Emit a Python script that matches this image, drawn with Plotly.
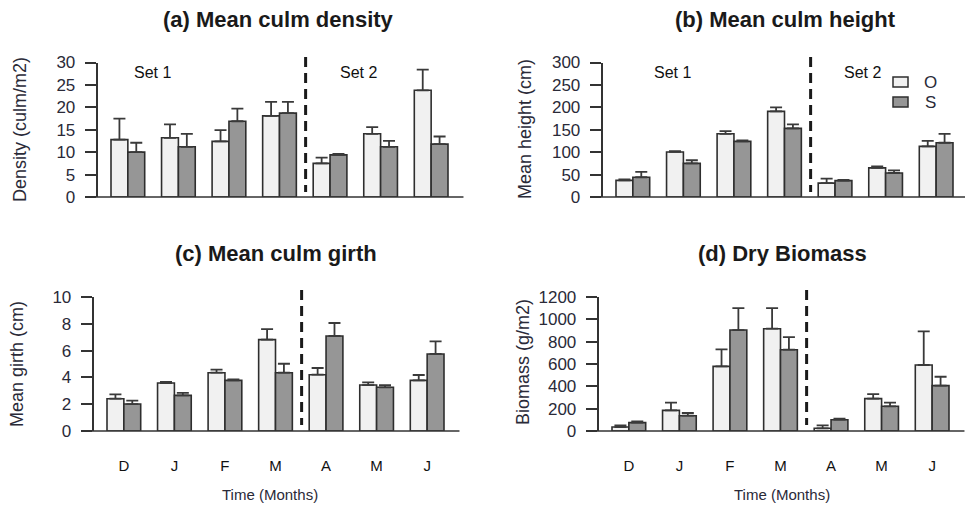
import numpy as np
import plotly.graph_objects as go

# ---------------- data ----------------
months = ["D", "J", "F", "M", "A", "M", "J"]
series_names = ["O", "S"]

density_O = [12.8, 13.2, 12.4, 18.1, 7.5, 14.1, 23.8]
density_O_err = [4.7, 3.0, 2.5, 3.1, 1.3, 1.5, 4.6]
density_S = [10.0, 11.2, 16.9, 18.7, 9.4, 11.2, 11.8]
density_S_err = [2.1, 2.9, 2.8, 2.5, 0.2, 1.3, 1.7]

height_O = [37, 100.5, 141, 191, 31, 65, 113]
height_O_err = [2.5, 1.5, 6, 9, 10, 3, 12]
height_S = [44, 75, 124, 153, 36.5, 53.6, 121]
height_S_err = [12, 7, 2, 9, 1.5, 6, 20]

girth_O = [2.41, 3.58, 4.35, 6.82, 4.2, 3.43, 3.78]
girth_O_err = [0.33, 0.08, 0.23, 0.79, 0.5, 0.2, 0.4]
girth_S = [2.01, 2.66, 3.78, 4.35, 7.09, 3.26, 5.75]
girth_S_err = [0.25, 0.18, 0.08, 0.67, 0.97, 0.17, 0.94]

biomass_O = [36, 185, 579, 916, 24, 290, 591]
biomass_O_err = [15, 69, 152, 185, 27, 41, 302]
biomass_S = [75, 137, 904, 728, 101, 221, 406]
biomass_S_err = [12, 24, 197, 113, 9, 33, 80]

titles = ["(a) Mean culm density", "(b) Mean culm height",
          "(c) Mean culm girth", "(d) Dry Biomass"]
ytitles = ["Density (culm/m2)", "Mean height (cm)", "Mean girth (cm)", "Biomass (g/m2)"]
set_labels = ["Set 1", "Set 2"]
xlabel = "Time (Months)"

# ---------------- layout constants ----------------
W, H = 965, 522
PPU = 16.85
FONT = "Liberation Sans, Arial, sans-serif"
C_O = "#F1F1F1"
C_S = "#969696"
EDGE = "#2e2e2e"
TXT = "#2a2a38"

def fx(px):
    return px / W

def fy(px):
    return 1 - px / H

panels = [
    dict(O=density_O, Oe=density_O_err, S=density_S, Se=density_S_err,
         unit1=111, ybot=197, ytop=62.5, ymax=30, dtick=5,
         title_xy=(278, 20), ytitle_xy=(20, 130), dash_y=(57, 192),
         months=False),
    dict(O=height_O, Oe=height_O_err, S=height_S, Se=height_S_err,
         unit1=616, ybot=197, ytop=62.5, ymax=300, dtick=50,
         title_xy=(785, 20), ytitle_xy=(525, 129), dash_y=(57, 192),
         months=False),
    dict(O=girth_O, Oe=girth_O_err, S=girth_S, Se=girth_S_err,
         unit1=107, ybot=431, ytop=297, ymax=10, dtick=2,
         title_xy=(276, 253), ytitle_xy=(17, 364), dash_y=(290, 425),
         months=True, xlab_xy=(270, 494)),
    dict(O=biomass_O, Oe=biomass_O_err, S=biomass_S, Se=biomass_S_err,
         unit1=612, ybot=431, ytop=297, ymax=1200, dtick=200,
         title_xy=(782, 253), ytitle_xy=(523, 362), dash_y=(290, 425),
         months=True, xlab_xy=(782, 494)),
]

n = len(months)
group_center = 3 * np.arange(1, n + 1) - 1.0
x_O = group_center - 0.5
x_S = group_center + 0.5
separator = 12.55

fig = go.Figure()
shapes = []
annotations = []

for k, p in enumerate(panels):
    sfx = "" if k == 0 else str(k + 1)
    xa, ya = "x" + sfx, "y" + sfx
    left_px = p["unit1"] - 0.8 * PPU
    right_px = min(p["unit1"] + 20.8 * PPU, W)
    xr = [0.2, 0.2 + (right_px - left_px) / PPU]

    for name, xs, vals, errs, col in [("O", x_O, p["O"], p["Oe"], C_O),
                                       ("S", x_S, p["S"], p["Se"], C_S)]:
        fig.add_trace(go.Bar(
            x=xs, y=vals, width=1, name=name, showlegend=False,
            marker=dict(color=col, line=dict(color=EDGE, width=1.6)),
            error_y=dict(type="data", array=errs, arrayminus=[0] * n,
                         symmetric=False, color="#3a3a3a", thickness=1.8, width=6),
            xaxis=xa, yaxis=ya))

    xkey = "xaxis" + sfx
    ykey = "yaxis" + sfx
    xax = dict(domain=[fx(left_px), fx(right_px)], range=xr, anchor=ya, automargin=False,
               showgrid=False, zeroline=False, showline=False, ticks="")
    if p["months"]:
        xax.update(tickvals=list(group_center), ticktext=months, showticklabels=True,
                   tickfont=dict(family=FONT, size=15, color="#111111"),
                   ticklabelstandoff=24)
    else:
        xax.update(showticklabels=False)
    fig.layout[xkey] = xax
    fig.layout[ykey] = dict(domain=[fy(p["ybot"]), fy(p["ytop"])], range=[0, p["ymax"]],
                            anchor=xa, automargin=False, showgrid=False, zeroline=False,
                            showline=True, linecolor="#333333", linewidth=1.6,
                            ticks="outside", ticklen=11, tickwidth=1.6, tickcolor="#333333",
                            tick0=0, dtick=p["dtick"], ticklabelstandoff=6,
                            tickfont=dict(family=FONT, size=17, color=TXT))

    # baseline
    shapes.append(dict(type="line", xref="paper", yref="paper",
                       x0=fx(left_px - 11), x1=fx(min(right_px + 2, W)),
                       y0=fy(p["ybot"]), y1=fy(p["ybot"]),
                       line=dict(color="#333333", width=1.6)))
    # separator dashed line
    sep_px = p["unit1"] + (separator - 1) * PPU
    shapes.append(dict(type="line", xref="paper", yref="paper",
                       x0=fx(sep_px), x1=fx(sep_px),
                       y0=fy(p["dash_y"][0]), y1=fy(p["dash_y"][1]),
                       line=dict(color="#1a1a1a", width=3, dash="10px,6px")))

    # title
    annotations.append(dict(text="<b>" + titles[k] + "</b>", xref="paper", yref="paper",
                            x=fx(p["title_xy"][0]), y=fy(p["title_xy"][1]),
                            xanchor="center", yanchor="middle", showarrow=False,
                            font=dict(family=FONT, size=22, color="#1a1a1a")))
    # y title
    annotations.append(dict(text=ytitles[k], xref="paper", yref="paper",
                            x=fx(p["ytitle_xy"][0]), y=fy(p["ytitle_xy"][1]),
                            xanchor="center", yanchor="middle", showarrow=False,
                            textangle=-90,
                            font=dict(family=FONT, size=18, color=TXT)))
    if p["months"]:
        annotations.append(dict(text=xlabel, xref="paper", yref="paper",
                                x=fx(p["xlab_xy"][0]), y=fy(p["xlab_xy"][1]),
                                xanchor="center", yanchor="middle", showarrow=False,
                                font=dict(family=FONT, size=15, color=TXT)))

# Set labels
for (px_, py_), lab in zip([(152, 72), (358, 72)], set_labels):
    annotations.append(dict(text=lab, xref="paper", yref="paper", x=fx(px_), y=fy(py_),
                            xanchor="center", yanchor="middle", showarrow=False,
                            font=dict(family=FONT, size=16, color="#111111")))
for (px_, py_), lab in zip([(672, 72), (862, 72)], set_labels):
    annotations.append(dict(text=lab, xref="paper", yref="paper", x=fx(px_), y=fy(py_),
                            xanchor="center", yanchor="middle", showarrow=False,
                            font=dict(family=FONT, size=16, color="#111111")))

# Legend (manual)
for (ytop_px, col, lab) in [(77, C_O, series_names[0]), (97, C_S, series_names[1])]:
    shapes.append(dict(type="rect", xref="paper", yref="paper",
                       x0=fx(893), x1=fx(908), y0=fy(ytop_px + 10), y1=fy(ytop_px),
                       fillcolor=col, line=dict(color=EDGE, width=1.5)))
    annotations.append(dict(text=lab, xref="paper", yref="paper",
                            x=fx(930), y=fy(ytop_px + 5.5), xanchor="center", yanchor="middle",
                            showarrow=False, font=dict(family=FONT, size=17, color=TXT)))

fig.update_layout(width=W, height=H,
                  margin=dict(l=0, r=0, t=0, b=0, pad=0, autoexpand=False),
                  paper_bgcolor="white", plot_bgcolor="white",
                  barmode="overlay", shapes=shapes, annotations=annotations,
                  showlegend=False, font=dict(family=FONT))

fig.write_html("out.html", config={"displayModeBar": False},
               post_script="document.body.style.margin='0';document.body.style.overflow='hidden';")
